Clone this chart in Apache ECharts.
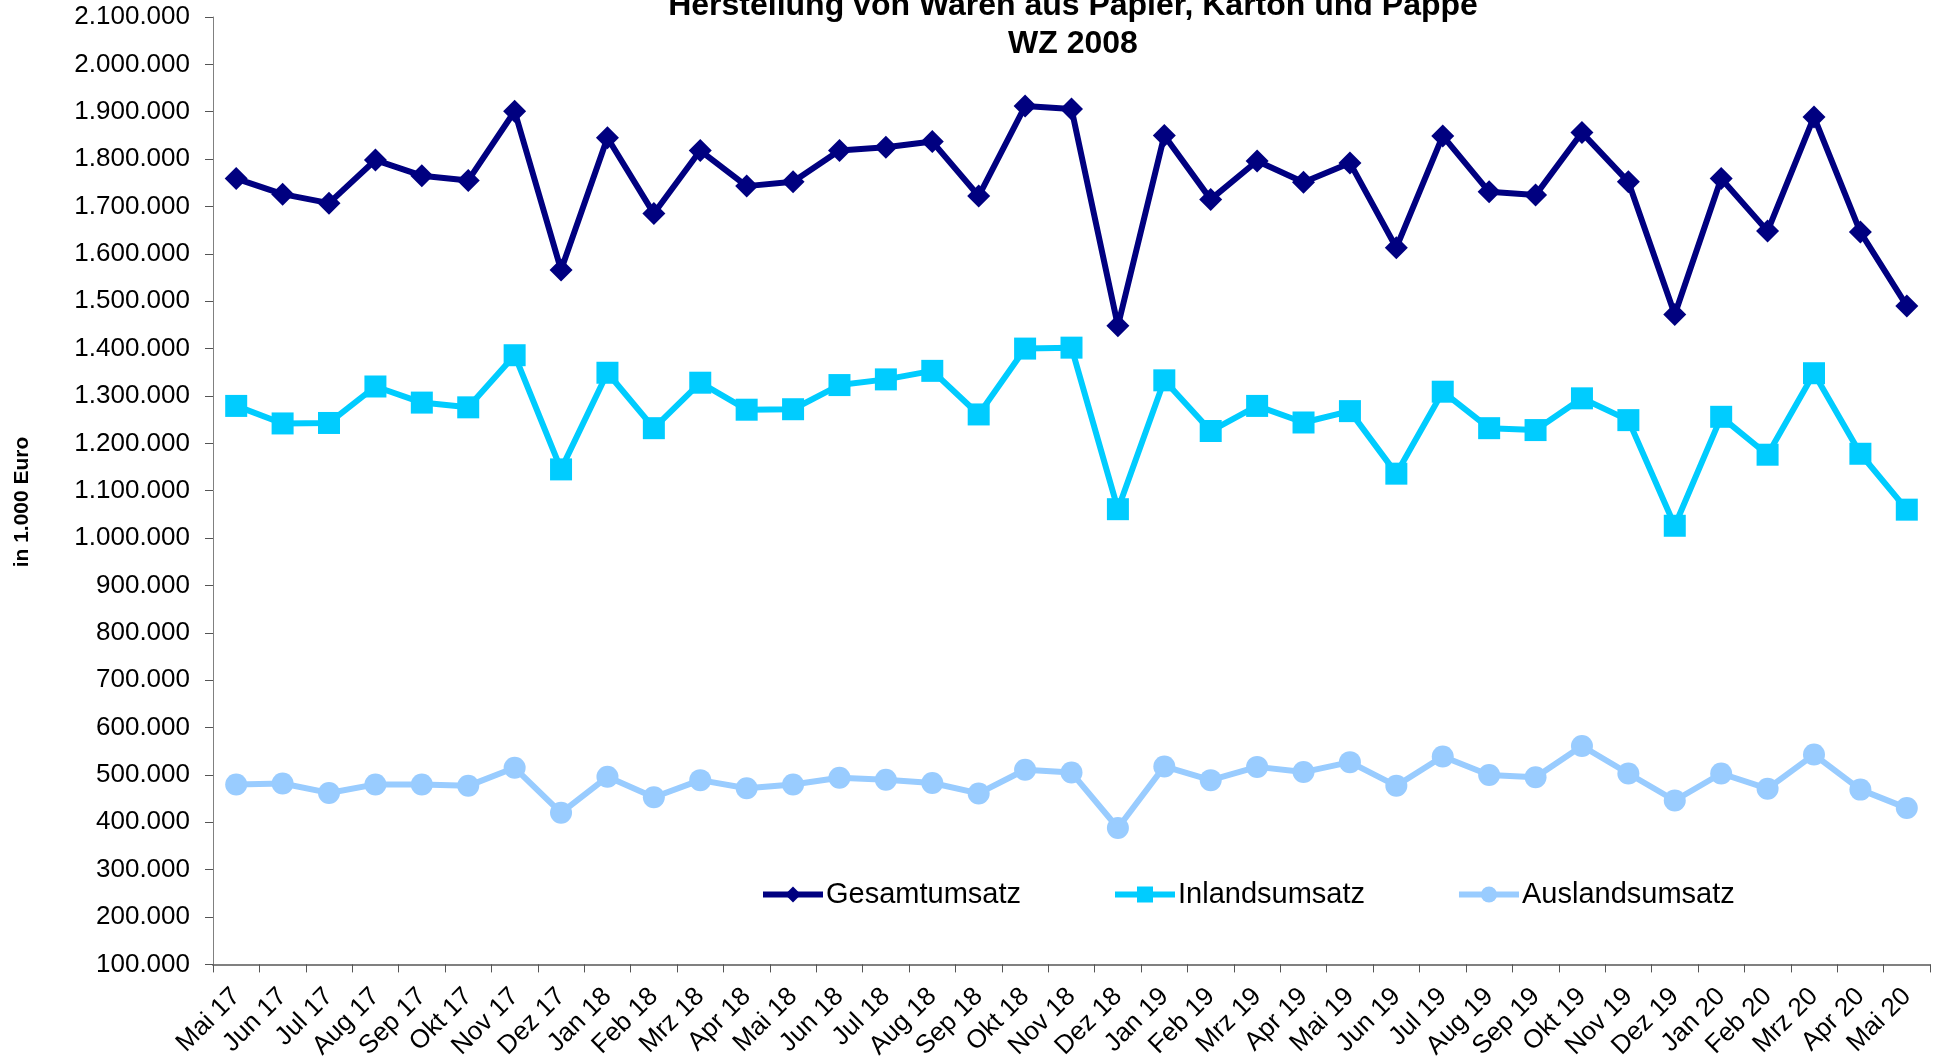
<!DOCTYPE html>
<html><head><meta charset="utf-8">
<script src="https://cdn.jsdelivr.net/npm/echarts@6/dist/echarts.min.js"></script>
<style>html,body{margin:0;padding:0;background:#fff}#c{width:1945px;height:1062px}</style>
</head><body><div id="c"></div>
<script>
const categories = ['Mai 17','Jun 17','Jul 17','Aug 17','Sep 17','Okt 17','Nov 17','Dez 17',
  'Jan 18','Feb 18','Mrz 18','Apr 18','Mai 18','Jun 18','Jul 18','Aug 18','Sep 18','Okt 18','Nov 18','Dez 18',
  'Jan 19','Feb 19','Mrz 19','Apr 19','Mai 19','Jun 19','Jul 19','Aug 19','Sep 19','Okt 19','Nov 19','Dez 19',
  'Jan 20','Feb 20','Mrz 20','Apr 20','Mai 20'];
const gesamtumsatz = [1759000,1726000,1707000,1798000,1765000,1755000,1901000,1566000,
  1845000,1685000,1818000,1743000,1752000,1818000,1825000,1837000,1722000,1912000,1906000,1448000,
  1850000,1715000,1796000,1751000,1792000,1613000,1849000,1731000,1724000,1856000,1752000,1472000,
  1759000,1648000,1889000,1646000,1490000];
const inlandsumsatz = [1279000,1242000,1243000,1320000,1286000,1276000,1386000,1145000,
  1349000,1232000,1328000,1271000,1272000,1323000,1335000,1353000,1261000,1400000,1402000,1061000,
  1333000,1226000,1279000,1244000,1268000,1136000,1309000,1232000,1228000,1295000,1249000,1026000,
  1256000,1176000,1348000,1178000,1060000];
const auslandsumsatz = [480000,482000,462000,480000,480000,477000,515000,420000,
  496000,453000,489000,472000,480000,494000,490000,483000,461000,511000,505000,388000,
  518000,489000,517000,506000,527000,477000,539000,500000,495000,561000,503000,446000,
  503000,471000,543000,469000,430000];
const seriesNames = ['Gesamtumsatz','Inlandsumsatz','Auslandsumsatz'];
const titleLines = ['Herstellung von Waren aus Papier, Karton und Pappe','WZ 2008'];
const yAxisName = 'in 1.000 Euro';
const yMin = 100000, yMax = 2100000, yStep = 100000;

const FONT = "'Liberation Sans', Arial, Helvetica, sans-serif";
function fmt(v){ return String(Math.round(v)).replace(/\B(?=(\d{3})+(?!\d))/g, '.'); }

const chart = echarts.init(document.getElementById('c'), null, {renderer:'canvas'});
const mk = (name, data, color, symbol, size) => ({
  name, type:'line', data, symbol, symbolSize:size, showSymbol:true,
  lineStyle:{color, width:6}, itemStyle:{color, borderWidth:0}, z: 2
});
chart.setOption({
  animation:false,
  backgroundColor:'#fff',
  title:{
    text: titleLines.join('\n'),
    left: 1073, top: -13, padding:0, textAlign:'center',
    textStyle:{fontFamily:FONT, fontSize:32, fontWeight:'bold', color:'#000', lineHeight:38}
  },
  graphic:[{
    type:'text', x:22, y:502, rotation:Math.PI/2,
    style:{text:yAxisName, font:"bold 21px "+FONT, fill:'#000', align:'center', verticalAlign:'middle'}
  }],
  legend:{
    left:760, top:880, padding:0, itemGap:91, itemWidth:60, itemHeight:20,
    lineStyle:{width:6},
    textStyle:{fontFamily:FONT, fontSize:29, color:'#000', padding:[0,0,0,-2]},
    data: seriesNames
  },
  grid:{left:213, right:15, top:17, bottom:97, containLabel:false},
  xAxis:{
    type:'category', data:categories, boundaryGap:true,
    axisLine:{lineStyle:{color:'#808080', width:2}},
    axisTick:{show:true, length:8, lineStyle:{color:'#555', width:1}},
    axisLabel:{interval:0, rotate:45, margin:28, padding:[22,0,0,0],
      fontFamily:FONT, fontSize:26, color:'#000'},
    splitLine:{show:false}
  },
  yAxis:{
    type:'value', min:yMin, max:yMax, interval:yStep,
    axisLine:{show:true, lineStyle:{color:'#808080', width:1}},
    axisTick:{show:true, length:8, lineStyle:{color:'#555', width:1}},
    axisLabel:{formatter:fmt, margin:23, fontFamily:FONT, fontSize:26, color:'#000'},
    splitLine:{show:false}
  },
  series:[
    mk(seriesNames[0], gesamtumsatz, '#000080', 'diamond', 23),
    mk(seriesNames[1], inlandsumsatz, '#00CCFF', 'rect', 22),
    mk(seriesNames[2], auslandsumsatz, '#99CCFF', 'circle', 22)
  ]
});
</script></body></html>
